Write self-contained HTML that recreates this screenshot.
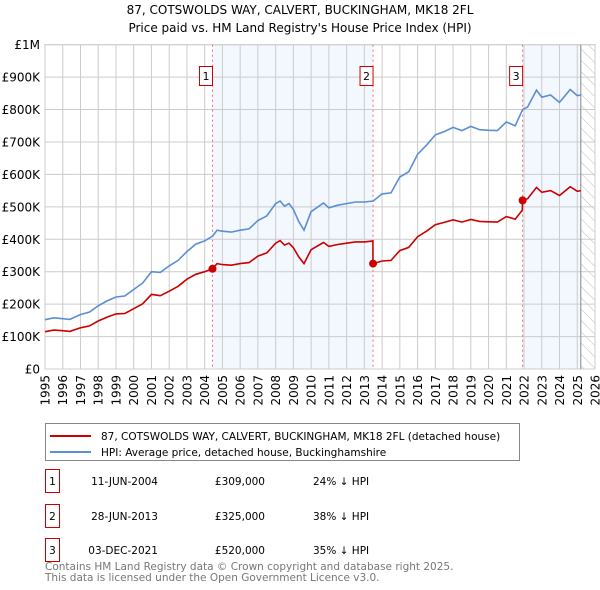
<!DOCTYPE html>
<html><head><meta charset="utf-8"><style>
body{margin:0;background:#fff;font-family:"DejaVu Sans","Liberation Sans",sans-serif;}
#wrap{position:relative;width:600px;height:590px;overflow:hidden}
</style></head><body>
<div id="wrap">
<svg id="c" width="600" height="590" xmlns="http://www.w3.org/2000/svg" font-family="DejaVu Sans, Liberation Sans, sans-serif">
<defs><pattern id="hatch" width="8" height="8" patternUnits="userSpaceOnUse" patternTransform="rotate(-45)"><line x1="0" y1="0" x2="0" y2="8" stroke="#bbb" stroke-width="1"/></pattern></defs>
<text x="300" y="14" text-anchor="middle" font-size="12">87, COTSWOLDS WAY, CALVERT, BUCKINGHAM, MK18 2FL</text>
<text x="300" y="32" text-anchor="middle" font-size="12">Price paid vs. HM Land Registry's House Price Index (HPI)</text>
<g id="plot"></g>
<g>
<rect x="45.5" y="423.5" width="474" height="37" fill="#fff" stroke="#888"/>
<line x1="50" y1="436" x2="91" y2="436" stroke="#cc0000" stroke-width="2"/>
<text x="101" y="440" font-size="10.5">87, COTSWOLDS WAY, CALVERT, BUCKINGHAM, MK18 2FL (detached house)</text>
<line x1="50" y1="452" x2="91" y2="452" stroke="#5b8fd4" stroke-width="2"/>
<text x="101" y="456" font-size="10.5">HPI: Average price, detached house, Buckinghamshire</text>
</g>
<g id="table" font-size="10.5"></g>
<text x="45" y="570" font-size="10.5" fill="#777">Contains HM Land Registry data © Crown copyright and database right 2025.</text>
<text x="45" y="581" font-size="10.5" fill="#777">This data is licensed under the Open Government Licence v3.0.</text>
</svg>
</div>
<script>
const hpiYears=[1995,1995.5,1996,1996.4,1997,1997.5,1998,1998.5,1999,1999.5,2000,2000.5,2001,2001.5,2002,2002.5,2003,2003.5,2004,2004.45,2004.7,2005,2005.5,2006,2006.5,2007,2007.5,2008,2008.25,2008.5,2008.75,2009,2009.3,2009.6,2010,2010.7,2011,2011.5,2012,2012.5,2013,2013.5,2014,2014.5,2015,2015.5,2016,2016.5,2017,2017.5,2018,2018.5,2019,2019.5,2020,2020.5,2021,2021.5,2021.92,2022.2,2022.7,2023,2023.5,2024,2024.6,2025,2025.2];
const hpiValues=[152,158,155,153,168,175,195,210,222,225,245,265,300,298,318,335,362,385,395,410,428,425,422,428,432,458,472,510,518,502,510,492,455,428,485,512,497,505,510,515,515,518,540,543,592,608,662,690,722,732,745,735,748,738,736,735,762,750,800,808,860,838,845,822,862,843,845];
const priceYears=[1995,1995.5,1996,1996.4,1997,1997.5,1998,1998.5,1999,1999.5,2000,2000.5,2001,2001.5,2002,2002.5,2003,2003.5,2004,2004.44,2004.7,2005,2005.5,2006,2006.5,2007,2007.5,2008,2008.25,2008.5,2008.75,2009,2009.3,2009.6,2010,2010.7,2011,2011.5,2012,2012.5,2013,2013.48,2013.49,2014,2014.5,2015,2015.5,2016,2016.5,2017,2017.5,2018,2018.5,2019,2019.5,2020,2020.5,2021,2021.5,2021.9,2021.92,2022.2,2022.7,2023,2023.5,2024,2024.6,2025,2025.2];
const priceValues=[115,120,118,116,127,133,148,160,170,171,186,201,230,226,240,255,277,292,300,309,325,322,320,325,328,348,358,388,396,382,388,374,346,325,368,390,378,384,388,392,392,395,325,333,335,365,375,408,425,445,452,460,453,461,455,454,453,470,462,490,520,525,560,545,550,535,562,548,550];
const saleLabels=["1","2","3"];
const saleYears=[2004.44,2013.49,2021.92];
const saleValues=[309,325,520];
const saleDates=["11-JUN-2004","28-JUN-2013","03-DEC-2021"];
const salePrices=["£309,000","£325,000","£520,000"];
const saleDiffs=["24% ↓ HPI","38% ↓ HPI","35% ↓ HPI"];
const yTicks=[0,100,200,300,400,500,600,700,800,900,1000];
const yTickLabels=["£0","£100K","£200K","£300K","£400K","£500K","£600K","£700K","£800K","£900K","£1M"];
const xTicks=[1995,1996,1997,1998,1999,2000,2001,2002,2003,2004,2005,2006,2007,2008,2009,2010,2011,2012,2013,2014,2015,2016,2017,2018,2019,2020,2021,2022,2023,2024,2025,2026];
const dataEnd=2025.2;

const X0=45,X1=595,Y0=369,Y1=44.7;
const x=t=>X0+(t-1995)/(2026-1995)*(X1-X0);
const y=v=>Y0-v/1000*(Y0-Y1);
const NS="http://www.w3.org/2000/svg";
const plot=document.getElementById('plot');
function mk(tag,attrs,parent){const e=document.createElementNS(NS,tag);for(const k in attrs)e.setAttribute(k,attrs[k]);(parent||plot).appendChild(e);return e;}

let r;
r=mk('rect',{x:x(saleYears[0]),y:Y1,width:x(saleYears[1])-x(saleYears[0]),height:Y0-Y1,fill:'#eef3fd',opacity:0.7});


r=mk('rect',{x:x(saleYears[2]),y:Y1,width:x(dataEnd)-x(saleYears[2]),height:Y0-Y1,fill:'#eef3fd',opacity:0.7});


r=mk('rect',{x:x(dataEnd),y:Y1,width:X1-x(dataEnd),height:Y0-Y1,fill:'url(#hatch)'});



yTicks.forEach((v,i)=>{
  const l=mk('line',{x1:X0,x2:X1,y1:y(v),y2:y(v),stroke:'#ccc','stroke-width':1});
  
  
  const t=mk('text',{x:40,y:y(v)+4.5,'text-anchor':'end','font-size':12});
  t.textContent=yTickLabels[i];
  
  
});
xTicks.forEach(yr=>{
  const l=mk('line',{x1:x(yr),x2:x(yr),y1:Y1,y2:Y0,stroke:'#ccc','stroke-width':1});
  
  
  const t=mk('text',{x:0,y:0,'text-anchor':'end','font-size':12,transform:`translate(${x(yr)+4.5},375) rotate(-90)`});
  t.textContent=String(yr);
  
  
});
r=mk('rect',{x:X0,y:Y1,width:X1-X0,height:Y0-Y1,fill:'none',stroke:'#ccc'});


r=mk('line',{x1:x(dataEnd),x2:x(dataEnd),y1:Y1,y2:Y0,stroke:'#888','stroke-width':1});



saleYears.forEach((yr,i)=>{
  const l=mk('line',{x1:x(yr),x2:x(yr),y1:Y1,y2:Y0,stroke:'#f07070','stroke-width':1,'stroke-dasharray':'2,3'});
  
  
});

const pts=(xs,vs)=>xs.map((t,i)=>x(t).toFixed(1)+','+y(vs[i]).toFixed(1)).join(' ');
let hp=mk('polyline',{points:pts(hpiYears,hpiValues),fill:'none',stroke:'#5b8fd4','stroke-width':1.6});


let pp=mk('polyline',{points:pts(priceYears,priceValues),fill:'none',stroke:'#cc0000','stroke-width':1.6});



saleYears.forEach((yr,i)=>{
  const c=mk('circle',{cx:x(yr),cy:y(saleValues[i]),r:4,fill:'#cc0000'});
  
  
  const b=mk('rect',{x:x(yr)-13,y:66.5,width:13,height:19,fill:'#fff',stroke:'#cc0000'});
  
  
  const t=mk('text',{x:x(yr)-6.5,y:80,'text-anchor':'middle','font-size':11});
  t.textContent=saleLabels[i];
  
  
});

const tbl=document.getElementById('table');
const rowY=[481,516,550];
saleLabels.forEach((lab,i)=>{
  const cy=rowY[i];
  const b=mk('rect',{x:45.5,y:cy-11.5,width:14,height:23,fill:'#fff',stroke:'#cc0000'},tbl);
  
  
  const cells=[[52.5,'middle',lab],[158,'end',saleDates[i]],[265,'end',salePrices[i]],[313,'start',saleDiffs[i]]];
  cells.forEach(([cx,an,txt],j)=>{
    const t=mk('text',{x:cx,y:cy+4,'text-anchor':an},tbl);
    t.textContent=txt;
    
    
  });
});
</script>
</body></html>
